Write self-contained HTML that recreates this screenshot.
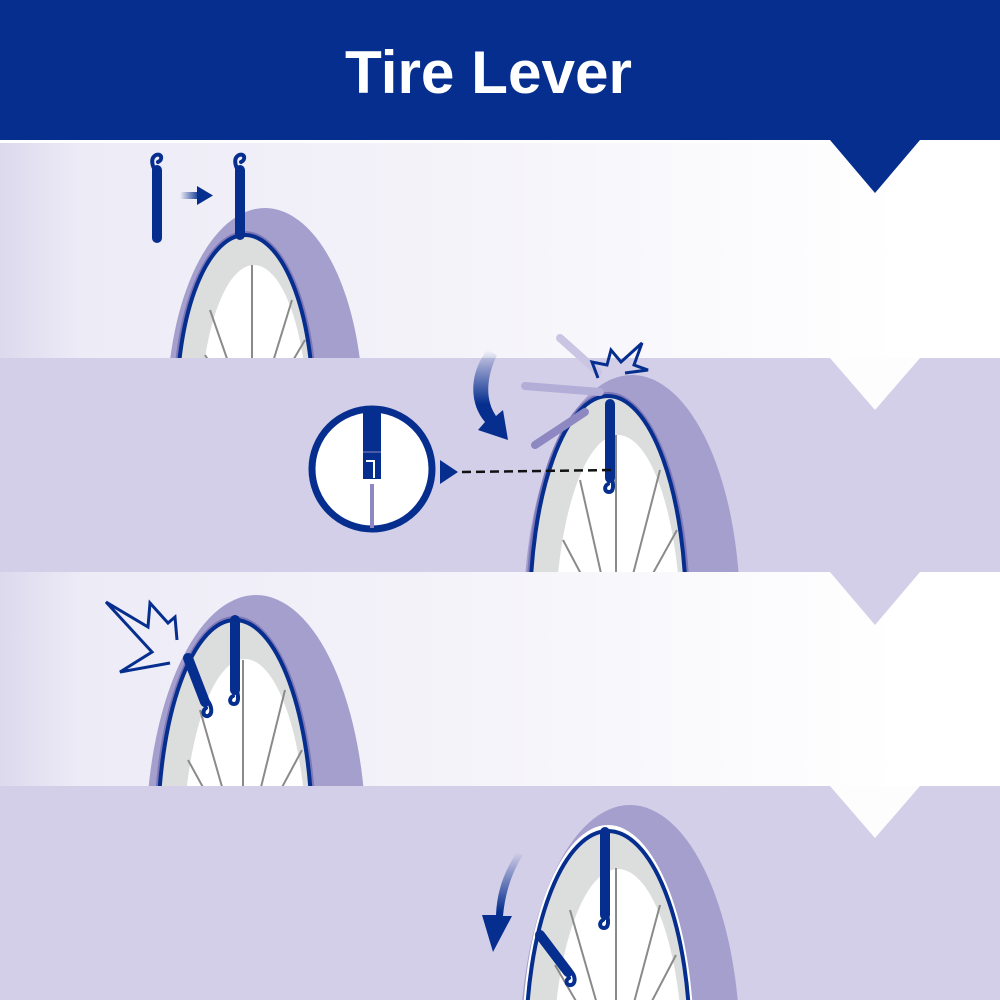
<!DOCTYPE html>
<html><head><meta charset="utf-8"><style>html,body{margin:0;padding:0;background:#fff;width:1000px;height:1000px;overflow:hidden}svg{display:block}</style></head>
<body>
<svg width="1000" height="1000" viewBox="0 0 1000 1000" xmlns="http://www.w3.org/2000/svg">
<defs>
<linearGradient id="pg" x1="0" x2="1" y1="0" y2="0">
<stop offset="0" stop-color="#dcd9ee"/><stop offset="0.08" stop-color="#edebf6"/><stop offset="0.5" stop-color="#f5f4fa"/><stop offset="0.9" stop-color="#ffffff"/>
</linearGradient>
<linearGradient id="ag" x1="0" x2="1"><stop offset="0" stop-color="#062e8f" stop-opacity="0"/><stop offset="1" stop-color="#062e8f"/></linearGradient>
<linearGradient id="cg" x1="0" y1="0" x2="0" y2="1"><stop offset="0" stop-color="#062e8f" stop-opacity="0"/><stop offset="0.6" stop-color="#062e8f"/></linearGradient>
<clipPath id="c1"><rect x="0" y="143" width="1000" height="215"/></clipPath>
<clipPath id="c2"><rect x="0" y="358" width="1000" height="214"/></clipPath>
<clipPath id="c3"><rect x="0" y="572" width="1000" height="214"/></clipPath>
<clipPath id="c4"><rect x="0" y="786" width="1000" height="214"/></clipPath>
</defs>
<rect x="0" y="0" width="1000" height="140" fill="#062e8f"/>
<rect x="0" y="143" width="1000" height="215" fill="url(#pg)"/>
<rect x="0" y="358" width="1000" height="214" fill="#d3cfe8"/>
<rect x="0" y="572" width="1000" height="214" fill="url(#pg)"/>
<rect x="0" y="786" width="1000" height="214" fill="#d3cfe8"/>
<polygon points="830,140 920,140 875,193" fill="#062e8f"/>
<polygon points="830,358 920,358 875,410" fill="#fdfdfe"/>
<polygon points="830,572 920,572 875,625" fill="#d3cfe8"/>
<polygon points="830,786 920,786 875,838" fill="#fdfdfe"/>
<text x="345" y="93" font-family="Liberation Sans, sans-serif" font-weight="bold" font-size="60" fill="#fff" textLength="287" lengthAdjust="spacingAndGlyphs">Tire Lever</text>

<!-- wheel 1 -->
<g clip-path="url(#c1)">
<ellipse cx="265" cy="410" rx="98" ry="202" fill="#a59fce"/>
<ellipse cx="245" cy="405" rx="72" ry="174" fill="#7e77b8"/>
<ellipse cx="245" cy="405" rx="68" ry="170" fill="#dcdedd" stroke="#062e8f" stroke-width="4"/>
<ellipse cx="254" cy="425" rx="54" ry="160" fill="#fff"/>
<g stroke="#8a8a8a" stroke-width="2">
<line x1="252" y1="430" x2="252" y2="265"/><line x1="252" y1="430" x2="205" y2="355"/><line x1="252" y1="430" x2="292" y2="300"/><line x1="252" y1="430" x2="305" y2="340"/><line x1="252" y1="430" x2="210" y2="310"/>
</g>
</g>
<g stroke="#062e8f" stroke-linecap="round" fill="none">
<path d="M157,170 L157,238" stroke-width="10"/>
<path d="M156,172 C152,166 150,158 156,155 C162,153 163,160 158,162" stroke-width="4"/>
<path d="M240,170 L240,235" stroke-width="10"/>
<path d="M239,172 C235,166 233,158 239,155 C245,153 246,160 241,162" stroke-width="4"/>
</g>
<rect x="180" y="192" width="20" height="7" fill="url(#ag)"/>
<polygon points="197,186 213,195.5 197,205" fill="#062e8f"/>

<!-- wheel 2 -->
<g clip-path="url(#c2)">
<ellipse cx="632" cy="612" rx="108" ry="237" fill="#a59fce"/>
<ellipse cx="608" cy="612" rx="82" ry="220" fill="#7e77b8"/>
<ellipse cx="608" cy="612" rx="78" ry="216" fill="#dcdedd" stroke="#062e8f" stroke-width="4"/>
<ellipse cx="618" cy="635" rx="63" ry="200" fill="#fff"/>
<g stroke="#8a8a8a" stroke-width="2">
<line x1="616" y1="640" x2="616" y2="435"/><line x1="616" y1="640" x2="563" y2="540"/><line x1="616" y1="640" x2="660" y2="470"/><line x1="616" y1="640" x2="677" y2="530"/><line x1="616" y1="640" x2="580" y2="480"/><line x1="616" y1="640" x2="558" y2="590"/>
</g>
</g>
<g stroke-linecap="round" fill="none">
<path d="M560,338 L598,372" stroke="#c9c5e2" stroke-width="8"/>
<path d="M525,386 L600,392" stroke="#b3aed7" stroke-width="8"/>
<path d="M535,445 L585,412" stroke="#8d87c2" stroke-width="8"/>
<path d="M610,404 L610,478" stroke="#062e8f" stroke-width="10"/>
<path d="M611,476 C614,484 614,492 609,492 C604,492 604,486 608,484" stroke="#062e8f" stroke-width="4"/>
</g>
<path d="M487,350 C468,375 470,405 485,422 L478,430 L508,440 L503,410 L496,416 C485,400 486,378 497,355 Z" fill="url(#cg)"/>
<path d="M598,378 L592,362 L607,365 L611,350 L621,362 L642,343 L634,365 L648,370 L625,373" fill="none" stroke="#062e8f" stroke-width="3"/>
<line x1="462" y1="472" x2="612" y2="470" stroke="#111" stroke-width="2.5" stroke-dasharray="9,5"/>
<polygon points="440,460 458,472 440,484" fill="#062e8f"/>
<circle cx="372" cy="469" r="60" fill="#fff" stroke="#062e8f" stroke-width="7"/>
<rect x="363" y="409" width="18" height="70" fill="#062e8f"/>
<path d="M363,452 L381,452" stroke="#8d87c2" stroke-width="1"/>
<path d="M366,461 L374,461 L374,478" stroke="#fff" stroke-width="2" fill="none"/>
<line x1="372" y1="484" x2="372" y2="528" stroke="#8d87c2" stroke-width="4"/>

<!-- wheel 3 -->
<g clip-path="url(#c3)">
<ellipse cx="256" cy="840" rx="110" ry="245" fill="#a59fce"/>
<ellipse cx="235" cy="832" rx="81" ry="216" fill="#7e77b8"/>
<ellipse cx="235" cy="832" rx="77" ry="212" fill="#dcdedd" stroke="#062e8f" stroke-width="4"/>
<ellipse cx="245" cy="855" rx="62" ry="196" fill="#fff"/>
<g stroke="#8a8a8a" stroke-width="2">
<line x1="243" y1="860" x2="243" y2="660"/><line x1="243" y1="860" x2="188" y2="760"/><line x1="243" y1="860" x2="285" y2="690"/><line x1="243" y1="860" x2="302" y2="750"/><line x1="243" y1="860" x2="200" y2="710"/>
</g>
</g>
<g stroke="#062e8f" stroke-linecap="round" fill="none">
<path d="M235,620 L235,690" stroke-width="10"/>
<path d="M236,688 C239,696 239,704 234,704 C229,704 229,698 233,696" stroke-width="4"/>
<path d="M188,658 L205,702" stroke-width="10"/>
<path d="M207,700 C212,706 213,714 208,716 C203,717 202,711 206,708" stroke-width="4"/>
<path d="M170,663 L120,672 L152,652 L106,602 L148,627 L150,603 L168,623 L175,617 L177,640" stroke-width="3" stroke-linecap="butt" stroke-linejoin="miter"/>
</g>

<!-- wheel 4 -->
<g clip-path="url(#c4)">
<ellipse cx="630" cy="1050" rx="110" ry="245" fill="#a59fce"/>
<ellipse cx="608" cy="1045" rx="86" ry="220" fill="#fff"/>
<ellipse cx="608" cy="1045" rx="82" ry="214" fill="#dcdedd" stroke="#062e8f" stroke-width="4"/>
<ellipse cx="618" cy="1065" rx="65" ry="196" fill="#fff"/>
<g stroke="#8a8a8a" stroke-width="2">
<line x1="616" y1="1070" x2="616" y2="868"/><line x1="616" y1="1070" x2="570" y2="910"/><line x1="616" y1="1070" x2="660" y2="905"/><line x1="616" y1="1070" x2="676" y2="955"/><line x1="616" y1="1070" x2="555" y2="965"/>
</g>
</g>
<g stroke="#062e8f" stroke-linecap="round" fill="none">
<path d="M605,832 L605,915" stroke-width="10"/>
<path d="M606,912 C609,920 609,928 604,928 C599,928 599,922 603,920" stroke-width="4"/>
<path d="M540,935 L568,972" stroke-width="10"/>
<path d="M570,970 C576,976 576,984 571,985 C566,986 565,980 569,978" stroke-width="4"/>
</g>
<path d="M517,852 C505,870 497,890 496,915 L482,915 L493,952 L512,916 L503,916 C505,893 512,872 523,855 Z" fill="url(#cg)"/>
</svg>
</body></html>
